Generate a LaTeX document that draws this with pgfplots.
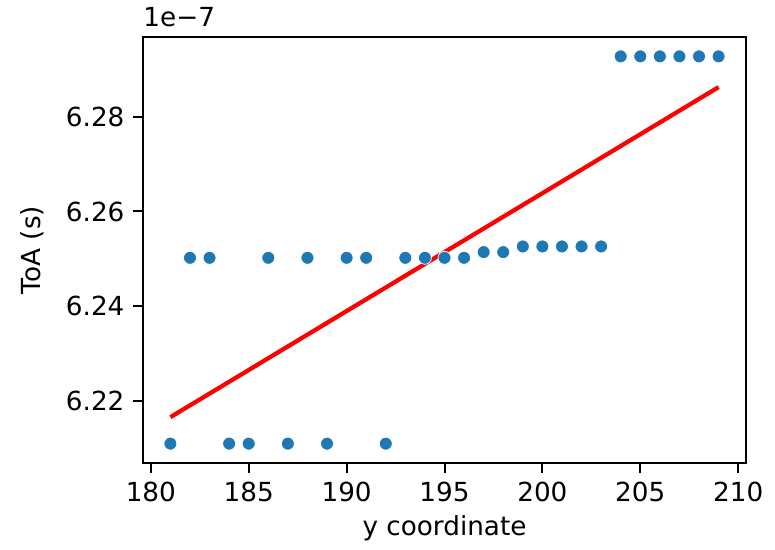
\documentclass[border=0pt]{standalone}
\usepackage{fontspec}
\setmainfont{DejaVu Sans}
\usepackage{pgfplots}
\usepackage{pgfplotstable}
\pgfplotsset{compat=1.18}
\definecolor{c1}{HTML}{1F77B4}

\pgfplotstableread{
x y
181 6.2109
182 6.2502
183 6.2502
184 6.2109
185 6.2109
186 6.2502
187 6.2109
188 6.2502
189 6.2109
190 6.2502
191 6.2502
192 6.2109
193 6.2502
194 6.2502
195 6.2502
196 6.2502
197 6.2514
198 6.2514
199 6.2526
200 6.2526
201 6.2526
202 6.2526
203 6.2526
204 6.2928
205 6.2928
206 6.2928
207 6.2928
208 6.2928
209 6.2928
}\pts

\pgfplotstableread{
x y
181 6.2165
209 6.2863
}\fit

\begin{document}
\begin{tikzpicture}
\begin{axis}[
  scale only axis,
  width=241.2pt, height=170.4pt,
  xmin=179.6, xmax=210.4,
  ymin=6.2068, ymax=6.2969,
  xtick={180,185,190,195,200,205,210},
  ytick={6.22,6.24,6.26,6.28},
  yticklabels={6.22,6.24,6.26,6.28},
  xticklabels={180,185,190,195,200,205,210},
  tick align=outside,
  tick pos=left,
  major tick length=3.9pt,
  tick style={black, line width=0.8pt},
  axis line style={line width=0.8pt},
  font=\fontsize{10.5}{12}\selectfont,
  xlabel={y coordinate},
  ylabel={ToA (s)},
  xlabel style={at={(axis description cs:0.5,-0.1526)}, anchor=center},
  ylabel style={at={(axis description cs:-0.184,0.5)}, anchor=center, rotate=0},
  clip=false,
]
\addplot[only marks, mark=*, mark size=2.6pt, color=c1, mark options={draw=white, line width=0.3pt, fill=c1}] table[x=x,y=y] {\pts};
\addplot[red, line width=1.7pt, no marks] table[x=x,y=y] {\fit};
\node[anchor=base west, inner sep=0pt, font=\fontsize{10.5}{12}\selectfont] at ([yshift=4.4pt]rel axis cs:0,1) {1e−7};
\coordinate (SW) at (rel axis cs:0,0);
\coordinate (NE) at (rel axis cs:1,1);
\end{axis}
\pgfresetboundingbox
\path[use as bounding box] ([shift={(-57.2pt,-34.4pt)}]SW) rectangle ([shift={(11.6pt,14.8pt)}]NE);
\end{tikzpicture}
\end{document}
